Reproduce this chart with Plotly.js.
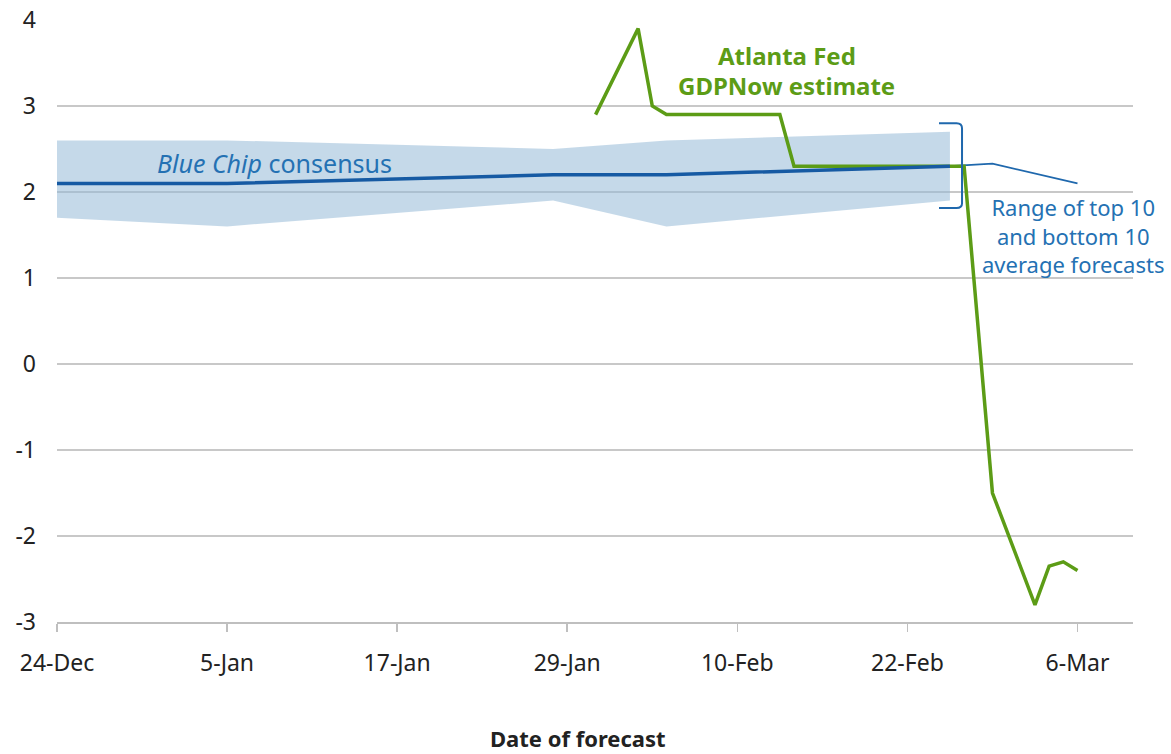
<!DOCTYPE html>
<html>
<head>
<meta charset="utf-8">
<script src="https://cdn.plot.ly/plotly-3.0.1.min.js"></script>
<style>html,body{margin:0;padding:0;background:#fff;}#chart{width:1171px;height:754px;}</style>
</head>
<body>
<div id="chart"></div>
<script>
// Blue Chip consensus and range of top/bottom 10 averages
const bcDates = ['2024-12-24', '2025-01-05', '2025-01-28', '2025-02-05', '2025-02-25'];
const bcConsensus = [2.1, 2.1, 2.2, 2.2, 2.3];
const bcTop10 = [2.6, 2.6, 2.5, 2.6, 2.7];
const bcBottom10 = [1.7, 1.6, 1.9, 1.6, 1.9];

// thin continuation of the consensus line
const extDates = ['2025-02-25', '2025-02-28', '2025-03-06'];
const extValues = [2.3, 2.33, 2.1];

// Atlanta Fed GDPNow estimate
const gdpDates = ['2025-01-31', '2025-02-03', '2025-02-04', '2025-02-05', '2025-02-13', '2025-02-14',
                  '2025-02-26', '2025-02-28', '2025-03-03', '2025-03-04', '2025-03-05', '2025-03-06'];
const gdpNow = [2.9, 3.9, 3.0, 2.9, 2.9, 2.3, 2.3, -1.5, -2.8, -2.35, -2.3, -2.4];

// axis ticks
const xTickVals = ['2024-12-24', '2025-01-05', '2025-01-17', '2025-01-29', '2025-02-10', '2025-02-22', '2025-03-06'];
const xTickText = ['24-Dec', '5-Jan', '17-Jan', '29-Jan', '10-Feb', '22-Feb', '6-Mar'];
const yTickVals = [-3, -2, -1, 0, 1, 2, 3, 4];
const yTickText = ['-3', '-2', '-1', '0', '1', '2', '3', '4'];

const FONT = 'Noto Sans, sans-serif';
const BLUE_TEXT = '#2471b3';
const GREEN = '#5c9c16';

const traces = [
  {x: bcDates, y: bcBottom10, type: 'scatter', mode: 'lines', line: {width: 0, color: 'rgba(0,0,0,0)'}, hoverinfo: 'skip', showlegend: false},
  {x: bcDates, y: bcTop10, type: 'scatter', mode: 'lines', fill: 'tonexty', fillcolor: 'rgba(150,186,215,0.55)', line: {width: 0, color: 'rgba(0,0,0,0)'}, hoverinfo: 'skip', showlegend: false},
  {x: extDates, y: extValues, type: 'scatter', mode: 'lines', line: {color: '#1f68ad', width: 1.8}, showlegend: false},
  {x: gdpDates, y: gdpNow, type: 'scatter', mode: 'lines', line: {color: GREEN, width: 3.5}, showlegend: false},
  {x: bcDates, y: bcConsensus, type: 'scatter', mode: 'lines', line: {color: '#165aa3', width: 3.5}, showlegend: false}
];

const layout = {
  width: 1171, height: 754,
  margin: {l: 57, r: 38, t: 20, b: 132},
  paper_bgcolor: '#fff', plot_bgcolor: '#fff',
  showlegend: false,
  font: {family: FONT, size: 23, color: '#222'},
  xaxis: {
    type: 'date',
    range: ['2024-12-24', '2025-03-09 22:00'],
    tickvals: xTickVals, ticktext: xTickText,
    showgrid: false, zeroline: false,
    showline: true, linecolor: '#bfbfbf', linewidth: 2,
    ticks: 'outside', ticklen: 8, tickwidth: 1.5, tickcolor: '#bfbfbf',
    ticklabelstandoff: 11,
    tickfont: {family: FONT, size: 23, color: '#222'}
  },
  yaxis: {
    range: [-3, 4],
    tickvals: yTickVals, ticktext: yTickText,
    showgrid: true, gridcolor: '#c8c8c8', gridwidth: 2,
    zeroline: false, showline: false,
    ticks: '', ticklabelstandoff: 20,
    tickfont: {family: FONT, size: 23, color: '#222'}
  },
  shapes: [
    {type: 'path', xref: 'paper', yref: 'y',
     path: 'M 0.8197,2.8 L 0.836,2.8 Q 0.8411,2.8 0.8411,2.74 L 0.8411,1.87 Q 0.8411,1.814 0.836,1.814 L 0.8197,1.814',
     line: {color: '#1f68ad', width: 2}}
  ],
  annotations: [
    {xref: 'paper', yref: 'y', x: 0.091, y: 2.337, xanchor: 'left', yanchor: 'middle', showarrow: false,
     text: '<i>Blue Chip</i> consensus', font: {family: FONT, size: 25, color: BLUE_TEXT}},
    {xref: 'paper', yref: 'y', x: 0.678, y: 3.593, xanchor: 'center', yanchor: 'middle', showarrow: false,
     text: '<b>Atlanta Fed</b>', font: {family: FONT, size: 24, color: GREEN}},
    {xref: 'paper', yref: 'y', x: 0.678, y: 3.233, xanchor: 'center', yanchor: 'middle', showarrow: false,
     text: '<b>GDPNow estimate</b>', font: {family: FONT, size: 24, color: GREEN}},
    {xref: 'paper', yref: 'y', x: 0.944, y: 1.5, xanchor: 'center', yanchor: 'middle', align: 'center', showarrow: false,
     text: 'Range of top 10<br>and bottom 10<br>average forecasts', font: {family: FONT, size: 22, color: BLUE_TEXT}},
    {xref: 'paper', yref: 'paper', x: 0.484, y: -0.1927, xanchor: 'center', yanchor: 'middle', showarrow: false,
     text: '<b>Date of forecast</b>', font: {family: FONT, size: 22, color: '#222'}}
  ]
};

Plotly.newPlot('chart', traces, layout, {displayModeBar: false, staticPlot: true});
</script>
</body>
</html>
